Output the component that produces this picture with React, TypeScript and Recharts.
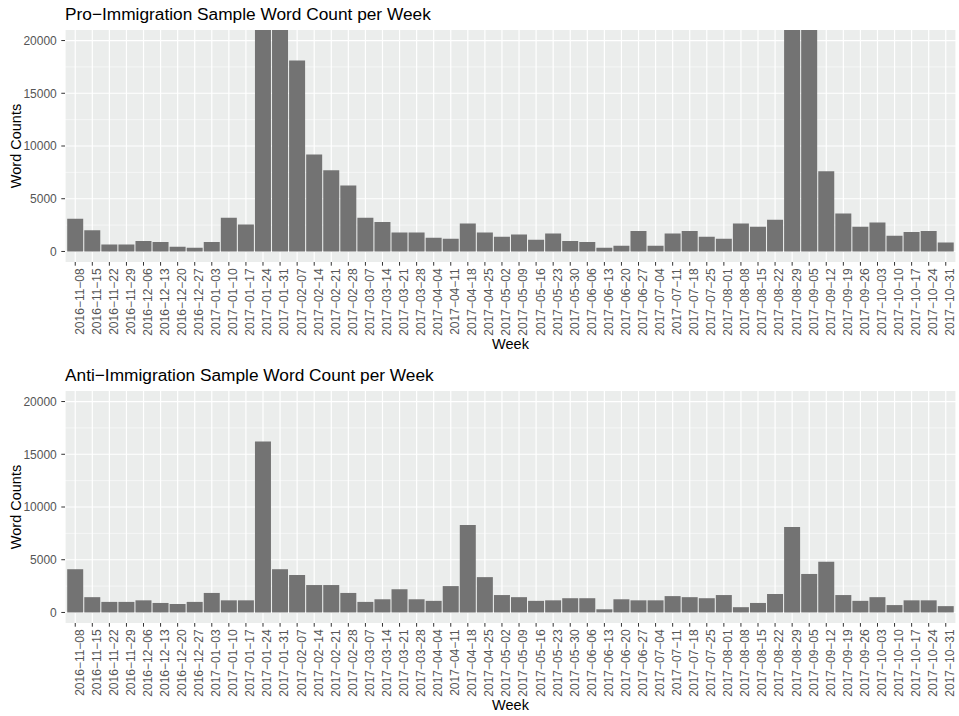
import React from 'react';
import { Bar, BarChart, CartesianGrid, XAxis, YAxis } from 'recharts';

// weekly buckets, Tuesday to Tuesday
const weeks = [
  '2016-11-08', '2016-11-15', '2016-11-22', '2016-11-29', '2016-12-06', '2016-12-13',
  '2016-12-20', '2016-12-27', '2017-01-03', '2017-01-10', '2017-01-17', '2017-01-24',
  '2017-01-31', '2017-02-07', '2017-02-14', '2017-02-21', '2017-02-28', '2017-03-07',
  '2017-03-14', '2017-03-21', '2017-03-28', '2017-04-04', '2017-04-11', '2017-04-18',
  '2017-04-25', '2017-05-02', '2017-05-09', '2017-05-16', '2017-05-23', '2017-05-30',
  '2017-06-06', '2017-06-13', '2017-06-20', '2017-06-27', '2017-07-04', '2017-07-11',
  '2017-07-18', '2017-07-25', '2017-08-01', '2017-08-08', '2017-08-15', '2017-08-22',
  '2017-08-29', '2017-09-05', '2017-09-12', '2017-09-19', '2017-09-26', '2017-10-03',
  '2017-10-10', '2017-10-17', '2017-10-24', '2017-10-31'
];

// the four spikes run off the top of the panel, their real height is unknown
const proCounts = [
  3100, 2000, 650, 650, 1000, 900, 450, 350, 900, 3200, 2550, 29000,
  23500, 18100, 9200, 7700, 6250, 3200, 2800, 1800, 1800, 1300, 1200, 2650,
  1800, 1400, 1600, 1100, 1700, 1000, 900, 350, 550, 1950, 550, 1700,
  1950, 1400, 1200, 2650, 2350, 3000, 33000, 26000, 7600, 3600, 2350, 2750,
  1500, 1850, 1950, 850
];

const antiCounts = [
  4100, 1450, 1000, 1000, 1150, 900, 800, 1000, 1850, 1150, 1150, 16200,
  4100, 3550, 2600, 2600, 1850, 1000, 1250, 2200, 1250, 1100, 2500, 8300,
  3350, 1650, 1450, 1100, 1150, 1350, 1350, 300, 1250, 1150, 1150, 1550,
  1450, 1350, 1650, 500, 900, 1750, 8100, 3650, 4800, 1650, 1100, 1450,
  700, 1150, 1150, 600
];

const yTicks = [0, 5000, 10000, 15000, 20000];
const yMinorTicks = [2500, 7500, 12500, 17500];
const yDomain = [-1000, 21000];

const data = weeks.map((week, i) => ({ week, pro: proCounts[i], anti: antiCounts[i] }));

const FONT = '"Liberation Sans", Arial, Helvetica, sans-serif';
const PANEL_H = 361;

const WeekTick = (props: any) => {
  const { x, y, payload } = props;
  return (
    <g transform={`translate(${x},${y})`}>
      <text
        transform="rotate(-90)"
        textAnchor="end"
        dy={8.4}
        fontSize={12}
        fontFamily={FONT}
        fill="#555555"
      >
        {String(payload.value).replace(/-/g, '\u2212')}
      </text>
    </g>
  );
};

type PanelProps = { dataKey: 'pro' | 'anti'; top: number };

const Panel: React.FC<PanelProps> = ({ dataKey, top }) => (
  <div style={{ position: 'absolute', left: 0, top }}>
    <BarChart
      width={959}
      height={PANEL_H}
      data={data}
      margin={{ top: 30, right: 3, left: 0, bottom: 0 }}
      barCategoryGap={0.5}
    >
      <CartesianGrid
        fill="#ebedec"
        stroke="#ffffff"
        strokeWidth={0.55}
        vertical={false}
        horizontalValues={yMinorTicks}
      />
      <CartesianGrid stroke="#ffffff" strokeWidth={1.2} horizontalValues={yTicks} />
      <XAxis
        dataKey="week"
        interval={0}
        height={99}
        padding={{ left: 1.7, right: 1.7 }}
        axisLine={false}
        tickLine={{ stroke: '#333333' }}
        tickSize={3.7}
        tickMargin={2.6}
        tick={<WeekTick />}
      />
      <YAxis
        width={65}
        domain={yDomain}
        ticks={yTicks}
        allowDataOverflow
        axisLine={false}
        tickLine={{ stroke: '#333333' }}
        tickSize={3.7}
        tickMargin={4.5}
        tick={{ fill: '#555555', fontSize: 12, fontFamily: FONT }}
      />
      <Bar dataKey={dataKey} fill="#737373" isAnimationActive={false} />
    </BarChart>
  </div>
);

const titles = [
  'Pro\u2212Immigration Sample Word Count per Week',
  'Anti\u2212Immigration Sample Word Count per Week'
];

export default function App() {
  return (
    <div style={{ position: 'absolute', left: 0, top: 0, width: 959, height: 716, background: '#fff' }}>
      <Panel dataKey="pro" top={0} />
      <Panel dataKey="anti" top={PANEL_H} />
      <svg
        width={959}
        height={716}
        style={{ position: 'absolute', left: 0, top: 0, pointerEvents: 'none' }}
        fontFamily={FONT}
      >
        {titles.map((t, i) => (
          <g key={t} transform={`translate(0,${i * PANEL_H})`}>
            <text x={65} y={20} fontSize={17.3} fill="#000">{t}</text>
            <text x={510.5} y={349.3} fontSize={14.5} textAnchor="middle" fill="#000">Week</text>
            <text
              transform="translate(20.5,146) rotate(-90)"
              fontSize={14.5}
              textAnchor="middle"
              fill="#000"
            >
              Word Counts
            </text>
          </g>
        ))}
      </svg>
    </div>
  );
}
